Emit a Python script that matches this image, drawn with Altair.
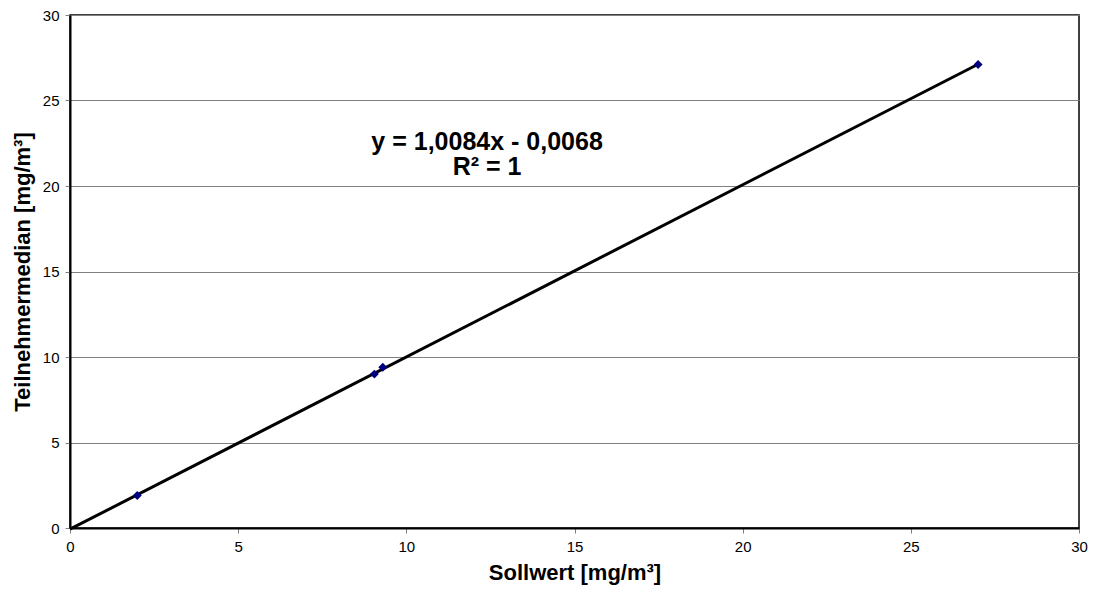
import altair as alt
import pandas as pd

sollwert = [2.0, 9.05, 9.3, 27.0]
median = [1.9, 9.0, 9.4, 27.1]
eq_text = ["y = 1,0084x - 0,0068", "R² = 1"]
eq_x = [12.4, 12.4]
eq_y = [22.6, 21.1]

df = pd.DataFrame({"x": sollwert, "y": median})
df_txt = pd.DataFrame({"x": eq_x, "y": eq_y, "t": eq_text})

FONT = "Liberation Sans"

xs = alt.Scale(domain=[0, 30], nice=False, zero=True)
ys = alt.Scale(domain=[0, 30], nice=False, zero=True)

xaxis = alt.Axis(title="Sollwert [mg/m³]", values=[0, 5, 10, 15, 20, 25, 30],
                 grid=False, domainColor="black", domainWidth=2, labelFlush=False,
                 tickColor="#808080", tickSize=5, labelFontSize=15, labelColor="black",
                 labelFont=FONT, titleFont=FONT, titleFontSize=22, titleFontWeight="bold",
                 titleColor="black", titlePadding=8, labelPadding=6)
yaxis = alt.Axis(title="Teilnehmermedian [mg/m³]", values=[0, 5, 10, 15, 20, 25, 30],
                 grid=True, gridColor="#808080", gridWidth=1, labelFlush=False,
                 domainColor="black", domainWidth=2,
                 tickColor="#808080", tickSize=5, labelFontSize=15, labelColor="black",
                 labelFont=FONT, titleFont=FONT, titleFontSize=22, titleFontWeight="bold",
                 titleColor="black", titlePadding=8, labelPadding=6)

base = alt.Chart(df)

trend = base.transform_regression("x", "y", extent=[0, 27.0]).mark_line(
    color="black", strokeWidth=3
).encode(x=alt.X("x:Q", scale=xs, axis=xaxis), y=alt.Y("y:Q", scale=ys, axis=yaxis))

pts = base.mark_point(shape="diamond", filled=True, color="#000080", size=80, opacity=1).encode(
    x=alt.X("x:Q", scale=xs), y=alt.Y("y:Q", scale=ys))

txt = alt.Chart(df_txt).mark_text(font=FONT, fontSize=25, fontWeight="bold", color="black",
                                  align="center", baseline="middle").encode(
    x=alt.X("x:Q", scale=xs), y=alt.Y("y:Q", scale=ys), text="t:N")

chart = alt.layer(trend, pts, txt).properties(
    width=1009, height=513,
    padding={"left": 62, "top": 7, "right": 9, "bottom": 70},
    autosize=alt.AutoSizeParams(type="none"),
    background="white",
).configure_view(stroke="black", strokeWidth=1.5)

chart.save("out.html", embed_options={"renderer": "svg", "actions": False})
